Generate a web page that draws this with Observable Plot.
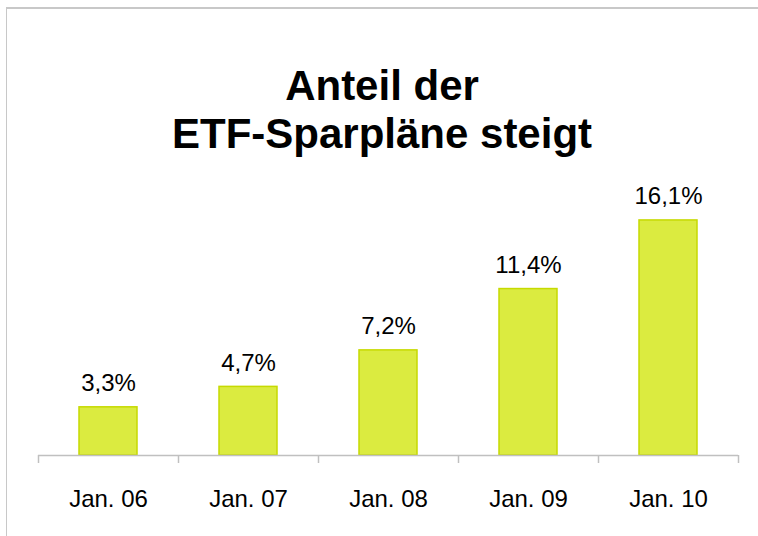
<!DOCTYPE html>
<html>
<head>
<meta charset="utf-8">
<script src="https://cdn.jsdelivr.net/npm/d3@7"></script>
<script src="https://cdn.jsdelivr.net/npm/@observablehq/plot@0.6"></script>
<style>
  html, body { margin: 0; padding: 0; background: #fff; }
  #wrap { position: relative; width: 758px; height: 536px; overflow: hidden; font-family: "Liberation Sans", Arial, sans-serif; }
  #frame { position: absolute; left: 6px; top: 7px; width: 800px; height: 600px; border-top: 2px solid #c8c8c8; border-left: 1px solid #c8c8c8; }
  #title { position: absolute; left: 0; width: 758px; top: 62px; text-align: center; font-weight: bold; font-size: 42px; line-height: 48px; color: #000; padding-left: 6px; box-sizing: border-box; }
  #chart { position: absolute; left: 0; top: 0; }
</style>
</head>
<body>
<div id="wrap">
  <div id="frame"></div>
  <div id="title">Anteil der<br>ETF-Sparpläne steigt</div>
  <div id="chart"></div>
</div>
<script>
const categories = ["Jan. 06", "Jan. 07", "Jan. 08", "Jan. 09", "Jan. 10"];
const values = [3.3, 4.7, 7.2, 11.4, 16.1];
const valueLabels = ["3,3%", "4,7%", "7,2%", "11,4%", "16,1%"];

const data = categories.map((c, i) => ({cat: c, i, value: values[i], label: valueLabels[i]}));
const boundaries = d3.range(categories.length + 1);
const centers = categories.map((c, i) => i + 0.5);

const plot = Plot.plot({
  width: 758,
  height: 536,
  marginLeft: 38,
  marginRight: 20,
  marginTop: 163,
  marginBottom: 81,
  style: {background: "transparent", fontFamily: "'Liberation Sans', Arial, sans-serif"},
  x: {type: "linear", domain: [0, categories.length], axis: null, label: null},
  y: {domain: [0, 20], axis: null, label: null},
  marks: [
    Plot.rectY(data, {x1: "i", x2: d => d.i + 1, y: "value", insetLeft: 41, insetRight: 41, fill: "#dbeb40", stroke: "#c6da00", strokeWidth: 1.5}),
    Plot.ruleY([0], {stroke: "#c0c0c0", strokeWidth: 1.5}),
    Plot.axisX({ticks: boundaries, tickFormat: () => "", tickSize: 8, stroke: "#c0c0c0", strokeWidth: 1.5, label: null}),
    Plot.axisX({ticks: centers, tickFormat: d => categories[Math.floor(d)], tickSize: 0, tickPadding: 34, fontSize: 24, fill: "#000", label: null}),
    Plot.text(data, {x: d => d.i + 0.5, y: "value", text: "label", lineAnchor: "bottom", dy: -16, fontSize: 24, fill: "#000"})
  ]
});
document.getElementById("chart").appendChild(plot);
</script>
</body>
</html>
